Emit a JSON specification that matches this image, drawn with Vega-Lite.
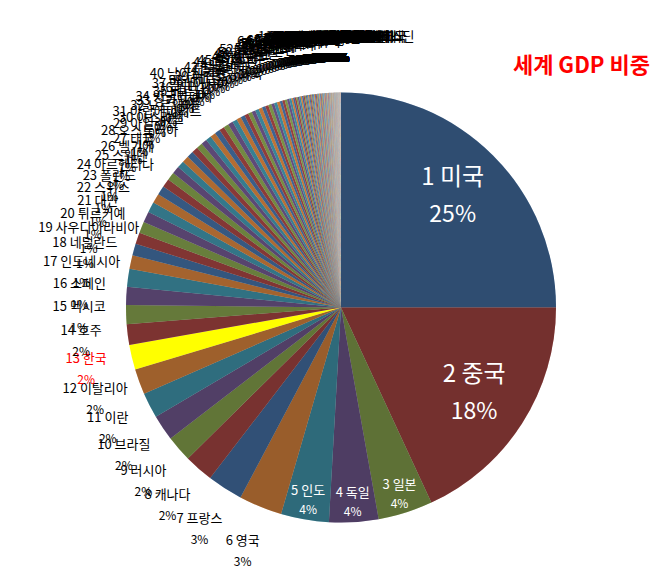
{
  "$schema": "https://vega.github.io/schema/vega-lite/v6.json",
  "width": 662,
  "height": 575,
  "autosize": "none",
  "padding": {"left": 10, "top": 20, "right": 0, "bottom": 0},
  "background": "white",
  "title": {
    "text": "세계 GDP 비중",
    "anchor": "end", "orient": "top", "frame": "group",
    "offset": -58, "dx": -22,
    "color": "#FF0000", "font": "Noto Sans CJK KR", "fontSize": 22, "fontWeight": "bold"
  },
  "data": {"values": [
    {"rank": 1, "country": "미국", "share": 25.0},
    {"rank": 2, "country": "중국", "share": 18.1},
    {"rank": 3, "country": "일본", "share": 4.1},
    {"rank": 4, "country": "독일", "share": 3.7},
    {"rank": 5, "country": "인도", "share": 3.6},
    {"rank": 6, "country": "영국", "share": 3.25},
    {"rank": 7, "country": "프랑스", "share": 2.67},
    {"rank": 8, "country": "캐나다", "share": 2.2},
    {"rank": 9, "country": "러시아", "share": 1.96},
    {"rank": 10, "country": "브라질", "share": 1.94},
    {"rank": 11, "country": "이란", "share": 1.92},
    {"rank": 12, "country": "이탈리아", "share": 1.9},
    {"rank": 13, "country": "한국", "share": 1.88},
    {"rank": 14, "country": "호주", "share": 1.55},
    {"rank": 15, "country": "멕시코", "share": 1.42},
    {"rank": 16, "country": "스페인", "share": 1.36},
    {"rank": 17, "country": "인도네시아", "share": 1.33},
    {"rank": 18, "country": "네덜란드", "share": 1.03},
    {"rank": 19, "country": "사우디아라비아", "share": 0.88},
    {"rank": 20, "country": "튀르키예", "share": 0.87},
    {"rank": 21, "country": "대만", "share": 0.85},
    {"rank": 22, "country": "스위스", "share": 0.83},
    {"rank": 23, "country": "폴란드", "share": 0.78},
    {"rank": 24, "country": "아르헨티나", "share": 0.72},
    {"rank": 25, "country": "스웨덴", "share": 0.68},
    {"rank": 26, "country": "벨기에", "share": 0.64},
    {"rank": 27, "country": "태국", "share": 0.6},
    {"rank": 28, "country": "오스트리아", "share": 0.57},
    {"rank": 29, "country": "아일랜드", "share": 0.54},
    {"rank": 30, "country": "이스라엘", "share": 0.51},
    {"rank": 31, "country": "아랍에미리트", "share": 0.49},
    {"rank": 32, "country": "노르웨이", "share": 0.47},
    {"rank": 33, "country": "싱가포르", "share": 0.45},
    {"rank": 34, "country": "방글라데시", "share": 0.43},
    {"rank": 35, "country": "베트남", "share": 0.42},
    {"rank": 36, "country": "필리핀", "share": 0.41},
    {"rank": 37, "country": "말레이시아", "share": 0.4},
    {"rank": 38, "country": "덴마크", "share": 0.39},
    {"rank": 39, "country": "이집트", "share": 0.38},
    {"rank": 40, "country": "남아프리카공화국", "share": 0.37},
    {"rank": 41, "country": "홍콩", "share": 0.36},
    {"rank": 42, "country": "콜롬비아", "share": 0.34},
    {"rank": 43, "country": "칠레", "share": 0.31},
    {"rank": 44, "country": "파키스탄", "share": 0.3},
    {"rank": 45, "country": "루마니아", "share": 0.29},
    {"rank": 46, "country": "체코", "share": 0.28},
    {"rank": 47, "country": "핀란드", "share": 0.28},
    {"rank": 48, "country": "이라크", "share": 0.27},
    {"rank": 49, "country": "포르투갈", "share": 0.25},
    {"rank": 50, "country": "뉴질랜드", "share": 0.24},
    {"rank": 51, "country": "페루", "share": 0.24},
    {"rank": 52, "country": "카자흐스탄", "share": 0.22},
    {"rank": 53, "country": "그리스", "share": 0.22},
    {"rank": 54, "country": "카타르", "share": 0.22},
    {"rank": 55, "country": "알제리", "share": 0.19},
    {"rank": 56, "country": "헝가리", "share": 0.18},
    {"rank": 57, "country": "쿠웨이트", "share": 0.18},
    {"rank": 58, "country": "나이지리아", "share": 0.17},
    {"rank": 59, "country": "우크라이나", "share": 0.16},
    {"rank": 60, "country": "모로코", "share": 0.13},
    {"rank": 61, "country": "에티오피아", "share": 0.12},
    {"rank": 62, "country": "슬로바키아", "share": 0.12},
    {"rank": 63, "country": "에콰도르", "share": 0.11},
    {"rank": 64, "country": "도미니카 공화국", "share": 0.11},
    {"rank": 65, "country": "푸에르토리코", "share": 0.11},
    {"rank": 66, "country": "케냐", "share": 0.11},
    {"rank": 67, "country": "오만", "share": 0.11},
    {"rank": 68, "country": "과테말라", "share": 0.09},
    {"rank": 69, "country": "불가리아", "share": 0.09},
    {"rank": 70, "country": "앙골라", "share": 0.08},
    {"rank": 71, "country": "우즈베키스탄", "share": 0.08},
    {"rank": 72, "country": "룩셈부르크", "share": 0.08},
    {"rank": 73, "country": "베네수엘라", "share": 0.08},
    {"rank": 74, "country": "크로아티아", "share": 0.07},
    {"rank": 75, "country": "파나마", "share": 0.07},
    {"rank": 76, "country": "탄자니아", "share": 0.07},
    {"rank": 77, "country": "코스타리카", "share": 0.07},
    {"rank": 78, "country": "스리랑카", "share": 0.07},
    {"rank": 79, "country": "우루과이", "share": 0.07},
    {"rank": 80, "country": "리투아니아", "share": 0.07},
    {"rank": 81, "country": "세르비아", "share": 0.06},
    {"rank": 82, "country": "슬로베니아", "share": 0.06},
    {"rank": 83, "country": "가나", "share": 0.06},
    {"rank": 84, "country": "미얀마", "share": 0.06},
    {"rank": 85, "country": "벨라루스", "share": 0.06},
    {"rank": 86, "country": "아제르바이잔", "share": 0.06},
    {"rank": 87, "country": "코트디부아르", "share": 0.06},
    {"rank": 88, "country": "콩고민주공화국", "share": 0.06},
    {"rank": 89, "country": "요르단", "share": 0.05},
    {"rank": 90, "country": "카메룬", "share": 0.045},
    {"rank": 91, "country": "우간다", "share": 0.044},
    {"rank": 92, "country": "투르크메니스탄", "share": 0.043},
    {"rank": 93, "country": "볼리비아", "share": 0.042},
    {"rank": 94, "country": "바레인", "share": 0.041},
    {"rank": 95, "country": "라트비아", "share": 0.04},
    {"rank": 96, "country": "파라과이", "share": 0.039},
    {"rank": 97, "country": "에스토니아", "share": 0.038},
    {"rank": 98, "country": "네팔", "share": 0.037},
    {"rank": 99, "country": "리비아", "share": 0.036},
    {"rank": 100, "country": "튀니지", "share": 0.035},
    {"rank": 101, "country": "캄보디아", "share": 0.032},
    {"rank": 102, "country": "엘살바도르", "share": 0.031},
    {"rank": 103, "country": "온두라스", "share": 0.03},
    {"rank": 104, "country": "짐바브웨", "share": 0.029},
    {"rank": 105, "country": "레바논", "share": 0.028},
    {"rank": 106, "country": "세네갈", "share": 0.027},
    {"rank": 107, "country": "아이슬란드", "share": 0.026},
    {"rank": 108, "country": "키프로스", "share": 0.026},
    {"rank": 109, "country": "조지아", "share": 0.025},
    {"rank": 110, "country": "보스니아 헤르체고비나", "share": 0.024},
    {"rank": 111, "country": "잠비아", "share": 0.023},
    {"rank": 112, "country": "파푸아뉴기니", "share": 0.022},
    {"rank": 113, "country": "아르메니아", "share": 0.021},
    {"rank": 114, "country": "트리니다드 토바고", "share": 0.02},
    {"rank": 115, "country": "알바니아", "share": 0.019},
    {"rank": 116, "country": "몰타", "share": 0.018},
    {"rank": 117, "country": "모잠비크", "share": 0.018},
    {"rank": 118, "country": "부르키나파소", "share": 0.017},
    {"rank": 119, "country": "말리", "share": 0.017},
    {"rank": 120, "country": "몽골", "share": 0.016},
    {"rank": 121, "country": "가봉", "share": 0.016},
    {"rank": 122, "country": "마다가스카르", "share": 0.015},
    {"rank": 123, "country": "자메이카", "share": 0.015},
    {"rank": 124, "country": "베냉", "share": 0.014},
    {"rank": 125, "country": "보츠와나", "share": 0.014},
    {"rank": 126, "country": "니카라과", "share": 0.014},
    {"rank": 127, "country": "기니", "share": 0.013},
    {"rank": 128, "country": "북마케도니아", "share": 0.013},
    {"rank": 129, "country": "몰도바", "share": 0.012},
    {"rank": 130, "country": "브루나이", "share": 0.012},
    {"rank": 131, "country": "라오스", "share": 0.012},
    {"rank": 132, "country": "적도기니", "share": 0.011},
    {"rank": 133, "country": "나미비아", "share": 0.011},
    {"rank": 134, "country": "콩고", "share": 0.011},
    {"rank": 135, "country": "모리셔스", "share": 0.01},
    {"rank": 136, "country": "차드", "share": 0.01},
    {"rank": 137, "country": "니제르", "share": 0.01},
    {"rank": 138, "country": "르완다", "share": 0.009},
    {"rank": 139, "country": "키르기스스탄", "share": 0.009},
    {"rank": 140, "country": "코소보", "share": 0.009},
    {"rank": 141, "country": "타지키스탄", "share": 0.008},
    {"rank": 142, "country": "바하마", "share": 0.008},
    {"rank": 143, "country": "몬테네그로", "share": 0.007},
    {"rank": 144, "country": "말라위", "share": 0.007},
    {"rank": 145, "country": "모리타니", "share": 0.007},
    {"rank": 146, "country": "토고", "share": 0.007},
    {"rank": 147, "country": "시에라리온", "share": 0.006},
    {"rank": 148, "country": "몰디브", "share": 0.006},
    {"rank": 149, "country": "피지", "share": 0.006},
    {"rank": 150, "country": "바베이도스", "share": 0.005},
    {"rank": 151, "country": "에스와티니", "share": 0.005},
    {"rank": 152, "country": "수리남", "share": 0.005},
    {"rank": 153, "country": "부룬디", "share": 0.004},
    {"rank": 154, "country": "아루바", "share": 0.004},
    {"rank": 155, "country": "레소토", "share": 0.004},
    {"rank": 156, "country": "지부티", "share": 0.004},
    {"rank": 157, "country": "라이베리아", "share": 0.003},
    {"rank": 158, "country": "안도라", "share": 0.003},
    {"rank": 159, "country": "부탄", "share": 0.003},
    {"rank": 160, "country": "중앙아프리카공화국", "share": 0.0025},
    {"rank": 161, "country": "벨리즈", "share": 0.0024},
    {"rank": 162, "country": "카보베르데", "share": 0.0021},
    {"rank": 163, "country": "세인트루시아", "share": 0.002},
    {"rank": 164, "country": "감비아", "share": 0.0018},
    {"rank": 165, "country": "앤티가 바부다", "share": 0.0017},
    {"rank": 166, "country": "세이셸", "share": 0.0016},
    {"rank": 167, "country": "기니비사우", "share": 0.0015},
    {"rank": 168, "country": "솔로몬 제도", "share": 0.0014},
    {"rank": 169, "country": "그레나다", "share": 0.0012},
    {"rank": 170, "country": "코모로", "share": 0.0011},
    {"rank": 171, "country": "세인트키츠 네비스", "share": 0.001},
    {"rank": 172, "country": "바누아투", "share": 0.0009},
    {"rank": 173, "country": "사모아", "share": 0.0009},
    {"rank": 174, "country": "세인트빈센트 그레나딘", "share": 0.0009},
    {"rank": 175, "country": "도미니카", "share": 0.0006},
    {"rank": 176, "country": "통가", "share": 0.0005},
    {"rank": 177, "country": "상투메 프린시페", "share": 0.0005},
    {"rank": 178, "country": "미크로네시아", "share": 0.0004},
    {"rank": 179, "country": "나우루", "share": 0.0003}
  ]},
  "transform": [
    {"joinaggregate": [{"op": "sum", "field": "share", "as": "total"}]},
    {"calculate": "datum.share / datum.total", "as": "pct"},
    {"calculate": "datum.rank + ' ' + datum.country", "as": "label"}
  ],
  "encoding": {
    "theta": {"field": "share", "type": "quantitative", "stack": true},
    "order": {"field": "rank", "type": "quantitative"}
  },
  "layer": [
    {
      "mark": {"type": "arc", "radius": 215},
      "encoding": {
        "color": {
          "condition": {"test": "datum.rank === 13", "value": "#FFFF00"},
          "field": "rank", "type": "ordinal",
          "scale": {"range": ["#4F81BD", "#C0504D", "#9BBB59", "#8064A2", "#4BACC6", "#F79646"]},
          "legend": null
        }
      }
    },
    {
      "mark": {"type": "arc", "radius": 215},
      "encoding": {
        "fill": {
          "field": "rank", "type": "quantitative",
          "scale": {"domain": [1, 110, 111, 179], "range": ["#000000", "#000000", "#ffffff", "#ffffff"]},
          "legend": null
        },
        "fillOpacity": {
          "condition": {"test": "datum.rank === 13", "value": 0},
          "field": "rank", "type": "quantitative",
          "scale": {"domain": [1, 110, 179], "range": [0.4, 0, 0.45]},
          "legend": null
        }
      }
    },
    {
      "mark": {"type": "text", "radius": 158, "dy": -18, "font": "Noto Sans CJK KR", "fontSize": 24, "color": "white"},
      "encoding": {"text": {"condition": {"test": "datum.rank <= 2", "field": "label"}, "value": ""}}
    },
    {
      "mark": {"type": "text", "radius": 158, "dy": 19, "font": "Noto Sans CJK KR", "fontSize": 23, "color": "white"},
      "encoding": {"text": {"condition": {"test": "datum.rank <= 2", "field": "pct", "format": ".0%"}, "value": ""}}
    },
    {
      "mark": {"type": "text", "radius": 195, "dy": -9, "font": "Noto Sans CJK KR", "fontSize": 13, "color": "white"},
      "encoding": {"text": {"condition": {"test": "datum.rank >= 3 && datum.rank <= 5", "field": "label"}, "value": ""}}
    },
    {
      "mark": {"type": "text", "radius": 195, "dy": 10, "font": "Noto Sans CJK KR", "fontSize": 12, "color": "white"},
      "encoding": {"text": {"condition": {"test": "datum.rank >= 3 && datum.rank <= 5", "field": "pct", "format": ".0%"}, "value": ""}}
    },
    {
      "mark": {"type": "text", "radius": 262, "dy": -9, "font": "Noto Sans CJK KR", "fontSize": 13},
      "encoding": {
        "text": {"condition": {"test": "datum.rank >= 6", "field": "label"}, "value": ""},
        "color": {"condition": {"test": "datum.rank === 13", "value": "#FF0000"}, "value": "#000000"}
      }
    },
    {
      "mark": {"type": "text", "radius": 262, "dy": 12, "font": "Noto Sans CJK KR", "fontSize": 12},
      "encoding": {
        "text": {"condition": {"test": "datum.rank >= 6", "field": "pct", "format": ".0%"}, "value": ""},
        "color": {"condition": {"test": "datum.rank === 13", "value": "#FF0000"}, "value": "#000000"}
      }
    }
  ]
}
